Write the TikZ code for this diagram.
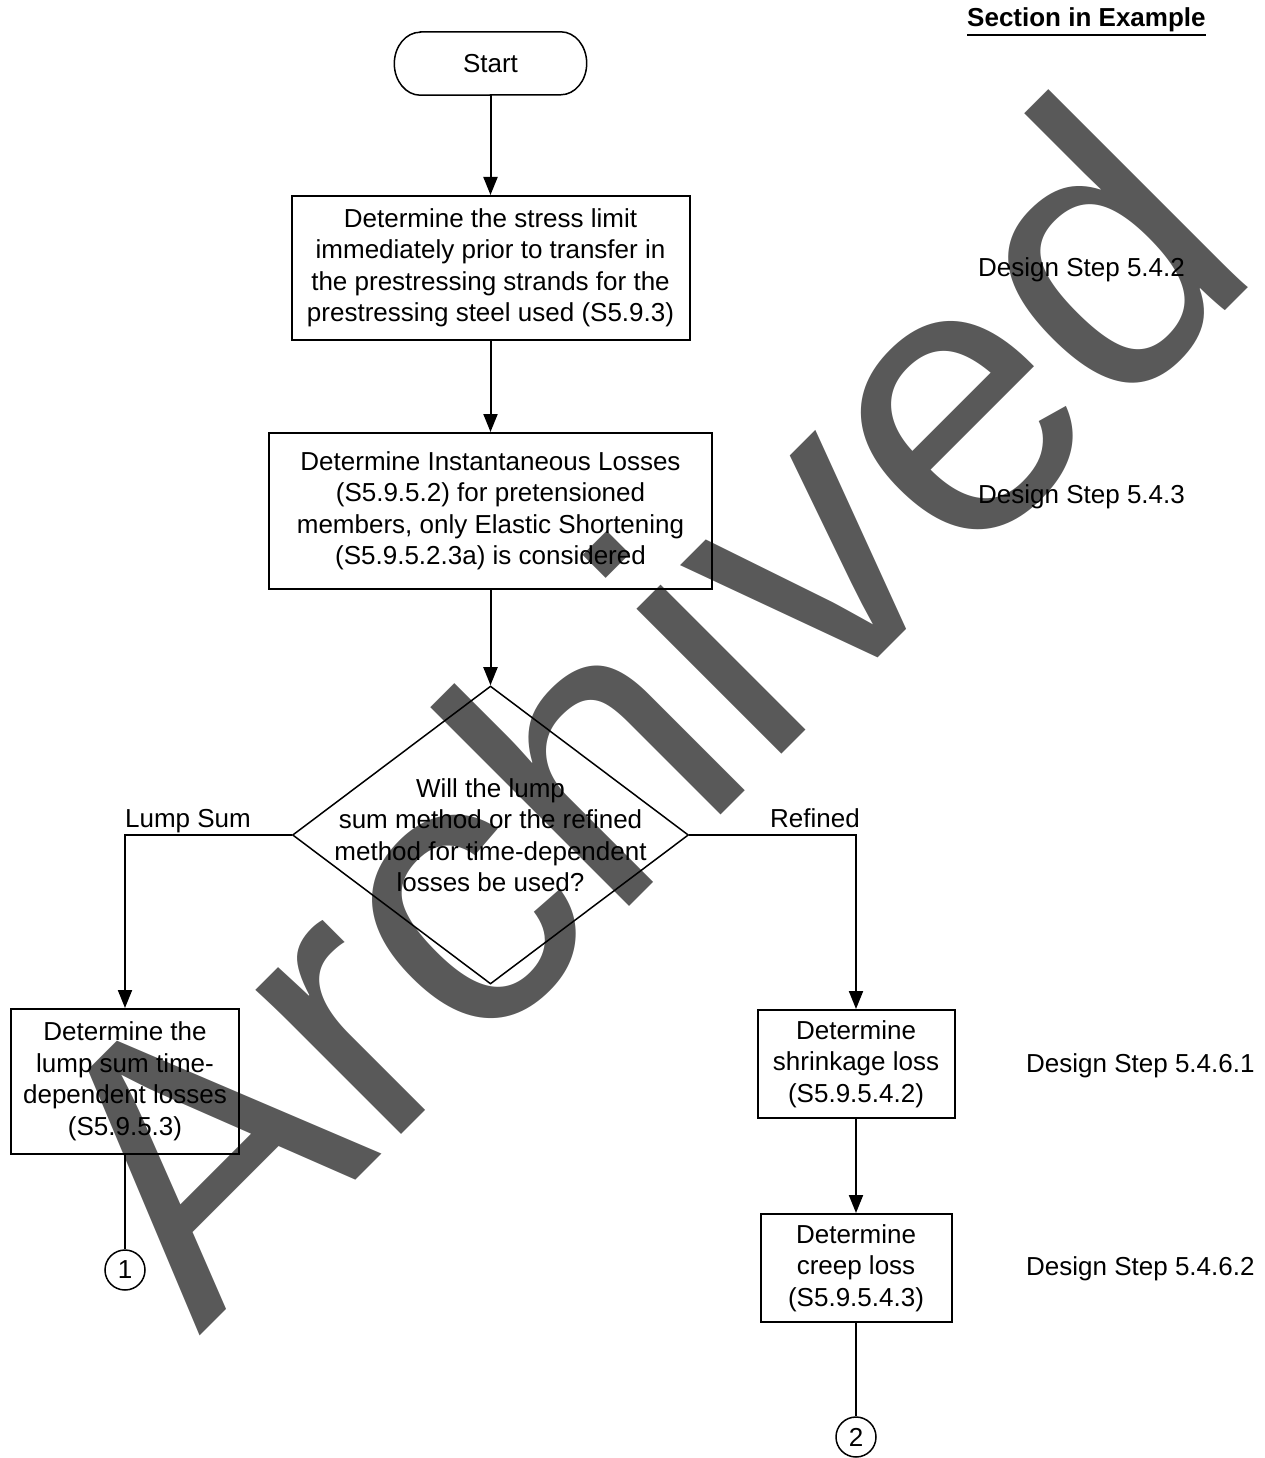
\documentclass[tikz,border=0pt]{standalone}
\usepackage{fontspec}
\setmainfont{Liberation Sans}
\usetikzlibrary{arrows.meta,shapes.geometric,calc}
\definecolor{wmgray}{RGB}{89,89,89}
\begin{document}
\begin{tikzpicture}[x=1pt,y=-1pt,
  every node/.style={font=\fontsize{26}{31.5}\selectfont, inner sep=0pt},
  proc/.style={draw, line width=2pt, align=center},
  link/.style={line width=2pt},
  arr/.style={link, -{Triangle[length=18pt,width=14pt]}},
  conn/.style={draw, circle, line width=1.5pt, minimum size=40pt},
  lbl/.style={anchor=base west}]
\useasboundingbox (0,0) rectangle (1265,1458);
% watermark
\node[rotate=45, anchor=base west, font=\fontsize{388}{388}\selectfont, text=wmgray] (wm) at (199,1337) {Archived};
% header
\node[anchor=base west, font=\fontsize{26}{31.5}\selectfont\bfseries] (sec) at (967,27) {Section in Example};
\draw[line width=2pt] ($(sec.base west)+(0,8)$) -- ($(sec.base east)+(0,8)$);
% start
\node[minimum width=192pt, minimum height=63pt] (start) at (490.5,63.5) {Start};
\draw[line width=1.5pt] ([xshift=26pt]start.north west) -- ([xshift=-26pt]start.north east)
  arc[start angle=90,end angle=-90,x radius=26pt,y radius=31.5pt]
  -- ([xshift=26pt]start.south west)
  arc[start angle=270,end angle=90,x radius=26pt,y radius=31.5pt] -- cycle;
% boxes
\node[proc, minimum width=398pt, minimum height=144pt] (b1) at (490.5,268)
  {Determine the stress limit\\immediately prior to transfer in\\the prestressing strands for the\\prestressing steel used (S5.9.3)};
\node[proc, minimum width=443pt, minimum height=156pt] (b2) at (490.5,511)
  {Determine Instantaneous Losses\\(S5.9.5.2) for pretensioned\\members, only Elastic Shortening\\(S5.9.5.2.3a) is considered};
\node[draw, diamond, line width=1.5pt, minimum width=396pt, minimum height=298pt] (d) at (490.5,835) {};
\node[align=center] (dq) at (490.5,835)
  {Will the lump\\sum method or the refined\\method for time-dependent\\losses be used?};
\node[proc, minimum width=228pt, minimum height=145pt] (b3) at (125,1081.5)
  {Determine the\\lump sum time-\\dependent losses\\(S5.9.5.3)};
\node[proc, minimum width=197pt, minimum height=108pt] (b4) at (856,1064)
  {Determine\\shrinkage loss\\(S5.9.5.4.2)};
\node[proc, minimum width=191pt, minimum height=108pt] (b5) at (856,1268)
  {Determine\\creep loss\\(S5.9.5.4.3)};
\node[conn] (c1) at (125,1270) {1};
\node[conn] (c2) at (856,1437) {2};
% labels
\node[anchor=base] (ls) at (188,827) {Lump Sum};
\node[anchor=base] (rf) at (815,827) {Refined};
\node[lbl] (s1) at (978,276) {Design Step 5.4.2};
\node[lbl] (s2) at (978,503) {Design Step 5.4.3};
\node[lbl] (s3) at (1026,1072) {Design Step 5.4.6.1};
\node[lbl] (s4) at (1026,1275) {Design Step 5.4.6.2};
% connectors
\draw[arr] (start) -- (b1);
\draw[arr] (b1) -- (b2);
\draw[arr] (b2) -- (d);
\draw[arr] (d.west) -| (b3.north);
\draw[arr] (d.east) -| (b4.north);
\draw[arr] (b4) -- (b5);
\draw[link] (b3) -- (c1);
\draw[link] (b5) -- (c2);
\end{tikzpicture}
\end{document}
